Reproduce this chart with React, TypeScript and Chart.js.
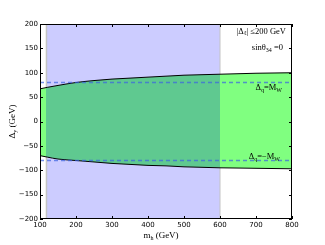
import React, { useEffect, useRef } from "react";
import { Chart, registerables } from "chart.js";

Chart.register(...registerables);

// ---- data ----
const massX = [100, 120, 150, 200, 250, 300, 350, 400, 450, 500, 550, 600, 650, 700, 750, 800];
const upperBound = [67, 70, 74, 80, 84, 87, 89, 91, 93, 95, 96, 97, 98, 99, 99.5, 100];
const lowerBound = [-70, -73, -77, -80, -83, -86, -88, -90, -91, -93, -94, -95, -95.5, -96, -96.5, -97];
const excludedRange = [118, 600];
const mW = 80;
const xRange = [100, 800];
const yRange = [-200, 200];
const xTicks = [100, 200, 300, 400, 500, 600, 700, 800];
const yTicks = [-200, -150, -100, -50, 0, 50, 100, 150, 200];

const GREEN = "#80ff80";
const OVERLAP = "#5fc990";
const BLUE = "#ccccff";
const SERIF = "'Liberation Serif', 'DejaVu Serif', serif";
const SANS = "'DejaVu Sans', sans-serif";

type Seg = { t: string; sub?: boolean };

function drawRich(ctx: CanvasRenderingContext2D, segs: Seg[], x: number, y: number, size: number, align: "left" | "right" | "center") {
  const big = `${size}px ${SERIF}`;
  const small = `${Math.round(size * 0.7)}px ${SERIF}`;
  let total = 0;
  for (const s of segs) {
    ctx.font = s.sub ? small : big;
    total += ctx.measureText(s.t).width;
  }
  let cx = align === "left" ? x : align === "right" ? x - total : x - total / 2;
  ctx.textAlign = "left";
  ctx.textBaseline = "middle";
  for (const s of segs) {
    ctx.font = s.sub ? small : big;
    ctx.fillText(s.t, cx, s.sub ? y + size * 0.3 : y);
    cx += ctx.measureText(s.t).width;
  }
}

const decorPlugin = {
  id: "decor",
  afterDraw(chart: any) {
    const ctx: CanvasRenderingContext2D = chart.ctx;
    const { left, right, top, bottom } = chart.chartArea;
    const xs = chart.scales.x;
    const ys = chart.scales.y;
    ctx.save();
    // frame
    ctx.strokeStyle = "#000";
    ctx.lineWidth = 1;
    ctx.strokeRect(left + 0.5, top + 0.5, right - left - 1, bottom - top - 1);
    // inward ticks
    ctx.beginPath();
    for (const v of xTicks) {
      const px = Math.round(xs.getPixelForValue(v)) + 0.5;
      ctx.moveTo(px, bottom);
      ctx.lineTo(px, bottom - 3);
      ctx.moveTo(px, top);
      ctx.lineTo(px, top + 3);
    }
    for (const v of yTicks) {
      const py = Math.round(ys.getPixelForValue(v)) + 0.5;
      ctx.moveTo(left, py);
      ctx.lineTo(left + 3, py);
      ctx.moveTo(right, py);
      ctx.lineTo(right - 3, py);
    }
    ctx.stroke();
    // annotations
    ctx.fillStyle = "#000";
    drawRich(ctx, [{ t: "|Δ" }, { t: "ℓ", sub: true }, { t: "| ≤200 GeV" }], right - 6, ys.getPixelForValue(185), 8.5, "right");
    drawRich(ctx, [{ t: "sinθ" }, { t: "34", sub: true }, { t: " =0" }], right - 9, ys.getPixelForValue(151), 8.5, "right");
    drawRich(ctx, [{ t: "Δ" }, { t: "q", sub: true }, { t: "=M" }, { t: "W", sub: true }], right - 10, ys.getPixelForValue(69), 8.5, "right");
    drawRich(ctx, [{ t: "Δ" }, { t: "q", sub: true }, { t: "=−M" }, { t: "W", sub: true }], right - 12, ys.getPixelForValue(-72), 8.5, "right");
    // axis titles
    drawRich(ctx, [{ t: "m" }, { t: "h", sub: true }, { t: " (GeV)" }], (left + right) / 2 - 5, 236, 9, "center");
    ctx.save();
    ctx.translate(13, (top + bottom) / 2);
    ctx.rotate(-Math.PI / 2);
    drawRich(ctx, [{ t: "Δ" }, { t: "y", sub: true }, { t: " (GeV)" }], 0, 0, 9, "center");
    ctx.restore();
    ctx.restore();
  },
};

export default function App() {
  const ref = useRef<HTMLCanvasElement | null>(null);
  useEffect(() => {
    if (!ref.current) return;
    const upperPts = massX.map((x, i) => ({ x, y: upperBound[i] }));
    const lowerPts = massX.map((x, i) => ({ x, y: lowerBound[i] }));
    const bandColor = (c: any) => {
      const chart = c.chart;
      const area = chart.chartArea;
      if (!area) return GREEN;
      const xs = chart.scales.x;
      const w = area.right - area.left;
      const p1 = Math.min(1, Math.max(0, (xs.getPixelForValue(excludedRange[0]) - area.left) / w));
      const p2 = Math.min(1, Math.max(0, (xs.getPixelForValue(excludedRange[1]) - area.left) / w));
      const g = chart.ctx.createLinearGradient(area.left, 0, area.right, 0);
      g.addColorStop(0, GREEN);
      g.addColorStop(p1, GREEN);
      g.addColorStop(p1, OVERLAP);
      g.addColorStop(p2, OVERLAP);
      g.addColorStop(p2, GREEN);
      g.addColorStop(1, GREEN);
      return g;
    };
    const chart = new Chart(ref.current, {
      type: "scatter",
      data: {
        datasets: [
          {
            label: "excluded",
            data: [
              { x: excludedRange[0], y: yRange[1] },
              { x: excludedRange[1], y: yRange[1] },
            ],
            showLine: true,
            borderWidth: 0,
            pointRadius: 0,
            backgroundColor: BLUE,
            fill: { value: yRange[0] },
            order: 10,
          } as any,
          {
            label: "edgeL",
            data: [
              { x: excludedRange[0], y: yRange[0] },
              { x: excludedRange[0], y: yRange[1] },
            ],
            showLine: true,
            borderColor: "#c4c4c4",
            borderWidth: 1.5,
            pointRadius: 0,
            order: 9,
          },
          {
            label: "edgeR",
            data: [
              { x: excludedRange[1], y: yRange[0] },
              { x: excludedRange[1], y: yRange[1] },
            ],
            showLine: true,
            borderColor: "#c4c4c4",
            borderWidth: 1,
            pointRadius: 0,
            order: 9,
          },
          {
            label: "upper",
            data: upperPts,
            showLine: true,
            borderColor: "#000",
            borderWidth: 1,
            pointRadius: 0,
            cubicInterpolationMode: "monotone",
            backgroundColor: bandColor,
            fill: "+1",
            order: 5,
          } as any,
          {
            label: "lower",
            data: lowerPts,
            showLine: true,
            borderColor: "#000",
            borderWidth: 1,
            pointRadius: 0,
            cubicInterpolationMode: "monotone",
            order: 4,
          } as any,
          {
            label: "MW",
            data: [
              { x: xRange[0], y: mW },
              { x: xRange[1], y: mW },
            ],
            showLine: true,
            borderColor: "rgba(60,100,225,0.7)",
            borderWidth: 1.5,
            borderDash: [4, 3],
            pointRadius: 0,
            order: 1,
          },
          {
            label: "-MW",
            data: [
              { x: xRange[0], y: -mW },
              { x: xRange[1], y: -mW },
            ],
            showLine: true,
            borderColor: "rgba(60,100,225,0.7)",
            borderWidth: 1.5,
            borderDash: [4, 3],
            pointRadius: 0,
            order: 1,
          },
        ],
      },
      options: {
        animation: false,
        responsive: false,
        maintainAspectRatio: false,
        layout: { padding: { left: 0, top: 24, right: 33, bottom: 0 } },
        plugins: { legend: { display: false }, tooltip: { enabled: false } },
        scales: {
          x: {
            type: "linear",
            min: xRange[0],
            max: xRange[1],
            afterBuildTicks: (s: any) => {
              s.ticks = xTicks.map((v) => ({ value: v }));
            },
            afterFit: (s: any) => {
              s.height = 26;
            },
            grid: { display: false, drawTicks: false },
            border: { display: false },
            ticks: { color: "#000", font: { family: SANS, size: 7 }, padding: 2, maxRotation: 0 },
          },
          y: {
            type: "linear",
            min: yRange[0],
            max: yRange[1],
            afterBuildTicks: (s: any) => {
              s.ticks = yTicks.map((v) => ({ value: v }));
            },
            afterFit: (s: any) => {
              s.width = 40;
            },
            grid: { display: false, drawTicks: false },
            border: { display: false },
            ticks: {
              color: "#000",
              font: { family: SANS, size: 7 },
              padding: 2,
              callback: (v: any) => (Number(v) < 0 ? "−" + Math.abs(Number(v)) : String(v)),
            },
          },
        },
      } as any,
      plugins: [decorPlugin],
    });
    return () => chart.destroy();
  }, []);
  return (
    <div style={{ position: "absolute", left: 0, top: 0, width: 325, height: 245, background: "#fff" }}>
      <canvas ref={ref} width={325} height={245} style={{ width: 325, height: 245, display: "block" }} />
    </div>
  );
}
